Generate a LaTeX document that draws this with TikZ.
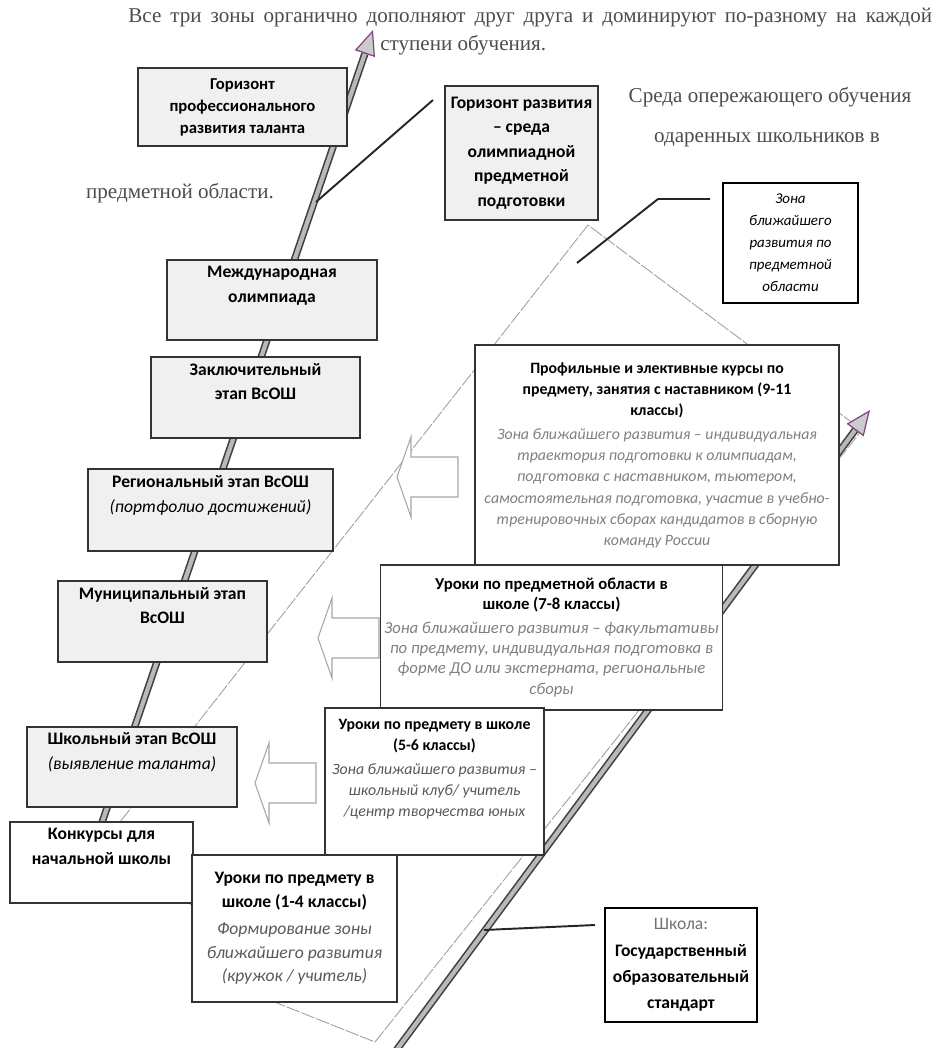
\documentclass[tikz,border=0pt]{standalone}
\usepackage{fontspec}
\setmainfont{Liberation Serif}
\newfontfamily\calfont{Carlito}
\usetikzlibrary{arrows.meta,calc}

\newcommand\stagenote[1]{{\mdseries\itshape #1}}
\newcommand\zonenote[1]{{\mdseries\itshape\color{black!50}#1}}

\tikzset{
  stage/.style={draw=black!80, fill=gray!12, line width=0.7pt, align=center,
    font=\calfont\bfseries\fontsize{10}{14}\selectfont, inner sep=2pt},
  lesson/.style={draw=black!80, fill=white, line width=0.7pt, align=center,
    font=\calfont\fontsize{9}{12}\selectfont, inner sep=2pt},
  thickbox/.style={draw=black, fill=white, line width=1.1pt, align=center, inner sep=2pt},
  sz/.style 2 args={minimum width=#1*0.02cm, minimum height=#2*0.02cm},
  pipe/.style={draw=black!75, line width=0.9pt, double=gray!55, double distance=2.4pt},
  pipehead/.style={draw=violet!45!gray, line width=0.7pt,
    -{Triangle[length=0.5cm, width=0.42cm, fill=gray!40]}},
  zone/.style={draw=gray!75, line width=0.5pt, dash pattern=on 8pt off 1pt},
  callout/.style={draw=black!85, line width=1.1pt},
  note/.style={text=black!70, font=\fontsize{12}{14}\selectfont, inner sep=0pt},
  blockarrow/.pic={\draw[draw=gray!70, fill=white, line width=0.6pt]
    (0,0) -- (14,-40) -- (14,-20) -- (61,-20) -- (61,20) -- (14,20) -- (14,40) -- cycle;}
}

\begin{document}
\begin{tikzpicture}[x=0.02cm, y=-0.02cm]

    \useasboundingbox (0,0) rectangle (937,1048);

    % Define points
    \coordinate (zoneTop) at (588,225); % top of the zone
    \coordinate (zoneLeft) at (98,850);
    \coordinate (zoneBendA) at (185,898);
    \coordinate (zoneBendB) at (277,1003);
    \coordinate (zoneBottom) at (375,1042);
    \coordinate (zoneRight) at (862,430);

    \coordinate (rodAbot) at (95,843); % olympiad rod
    \coordinate (rodAtip) at (373,30);
    \coordinate (rodAhead) at ($(rodAtip)!0.5cm!(rodAbot)$);
    \coordinate (rodBbot) at (395,1052); % school rod
    \coordinate (rodBtip) at (870,410);
    \coordinate (rodBhead) at ($(rodBtip)!0.5cm!(rodBbot)$);

    % Zone of proximal development
    \draw[zone] (zoneTop) -- (zoneLeft) -- (zoneBendA) -- (zoneBendB)
      -- (zoneBottom) -- (zoneRight) -- cycle;

    % Rods with arrow heads
    \draw[pipe] (rodAbot) -- (rodAhead);
    \draw[pipehead] (rodAhead) -- (rodAtip);
    \draw[pipe] (rodBbot) -- (rodBhead);
    \draw[pipehead] (rodBhead) -- (rodBtip);

    % Texts
    \node[note, anchor=west] (topLine) at (128,18)
      {\makebox[16.08cm][s]{Все три зоны органично дополняют друг друга и доминируют по-разному на каждой}};
    \node[note, anchor=west] (stupeni) at (380,45) {ступени обучения.};
    \node[note] (sreda) at (770,97) {Среда опережающего обучения};
    \node[note] (odar) at (767,140) {одаренных школьников в};
    \node[note] (predm) at (180,193) {предметной области.};

    % Olympiad stages
    \node[stage, sz={209}{78}, font=\calfont\bfseries\fontsize{9.5}{12.5}\selectfont] (gorProf) at (242.5,107)
      {Горизонт\\профессионального\\развития таланта};
    \node[stage, sz={153}{134}] (gorRazv) at (521.5,153)
      {Горизонт развития\\– среда\\олимпиадной\\предметной\\подготовки};
    \node[stage, sz={210}{80}] (mezhd) at (272,300) {Международная\\олимпиада\\\strut};
    \node[stage, sz={209}{81}] (zakl) at (255.5,397.5) {Заключительный\\этап ВсОШ\\\strut};
    \node[stage, sz={245}{82}] (region) at (210.5,510)
      {Региональный этап ВсОШ\\\stagenote{(портфолио достижений)}\\\strut};
    \node[stage, sz={209}{81}] (munic) at (162.5,621.5) {Муниципальный этап\\ВсОШ\\\strut};
    \node[stage, sz={210}{80}] (shkol) at (132,767)
      {Школьный этап ВсОШ\\\stagenote{(выявление таланта)}\\\strut};
    \node[stage, fill=white, sz={183}{81}] (konk) at (101.5,862.5)
      {Конкурсы для\\начальной школы\\\strut};

    % Zone box
    \node[thickbox, sz={135}{120}, font=\calfont\itshape\fontsize{8.5}{12.5}\selectfont] (zona) at (790.5,243)
      {Зона\\ближайшего\\развития по\\предметной\\области};

    % Lessons
    \node[lesson, sz={364}{220}] (prof) at (657,455)
      {\textbf{Профильные и элективные курсы по}\\
       \textbf{предмету, занятия с наставником (9-11}\\
       \textbf{классы)}\\[2pt]
       \zonenote{Зона ближайшего развития – индивидуальная}\\
       \zonenote{траектория подготовки к олимпиадам,}\\
       \zonenote{подготовка с наставником, тьютером,}\\
       \zonenote{самостоятельная подготовка, участие в учебно-}\\
       \zonenote{тренировочных сборах кандидатов в сборную}\\
       \zonenote{команду России}};
    \node[lesson, sz={337}{145}, font=\calfont\fontsize{9.5}{11.5}\selectfont] (urok78) at (551.5,637.5)
      {\textbf{Уроки по предметной области в}\\
       \textbf{школе (7-8 классы)}\\[2pt]
       \zonenote{Зона ближайшего развития – факультативы}\\
       \zonenote{по предмету, индивидуальная подготовка в}\\
       \zonenote{форме ДО или экстерната, региональные}\\
       \zonenote{сборы}};
    \node[lesson, sz={219}{147}] (urok56) at (434.5,781.5)
      {\textbf{Уроки по предмету в школе}\\
       \textbf{(5-6 классы)}\\[2pt]
       \stagenote{\color{black!65}Зона ближайшего развития –}\\
       \stagenote{\color{black!65}школьный клуб/ учитель}\\
       \stagenote{\color{black!65}/центр творчества юных}\\\strut};
    \node[lesson, sz={205}{147}, font=\calfont\fontsize{10}{13.5}\selectfont] (urok14) at (294.5,928.5)
      {\textbf{Уроки по предмету в}\\
       \textbf{школе (1-4 классы)}\\[2pt]
       \stagenote{\color{black!65}Формирование зоны}\\
       \stagenote{\color{black!65}ближайшего развития}\\
       \stagenote{\color{black!65}(кружок / учитель)}};

    % School standard
    \node[thickbox, sz={152}{114}, font=\calfont\fontsize{10}{15}\selectfont] (shkola) at (681,965)
      {{\color{black!55}Школа:}\\\textbf{Государственный}\\\textbf{образовательный}\\\textbf{стандарт}};

    % Block arrows towards the stages
    \pic (arrRegion) at (397,477) {blockarrow};
    \pic (arrMunic) at (318,638) {blockarrow};
    \pic (arrShkol) at (255,783) {blockarrow};

    % Callouts
    \coordinate (razvPin) at (316,202);
    \coordinate (razvEnd) at (433,100);
    \coordinate (zonaPin) at (577,263);
    \coordinate (zonaBend) at (658,199);
    \coordinate (zonaEnd) at (710,199);
    \coordinate (shkolaPin) at (484,930);
    \coordinate (shkolaEnd) at (595,925);
    \draw[callout] (razvPin) -- (razvEnd);
    \draw[callout] (zonaPin) -- (zonaBend) -- (zonaEnd);
    \draw[callout] (shkolaPin) -- (shkolaEnd);

\end{tikzpicture}
\end{document}
